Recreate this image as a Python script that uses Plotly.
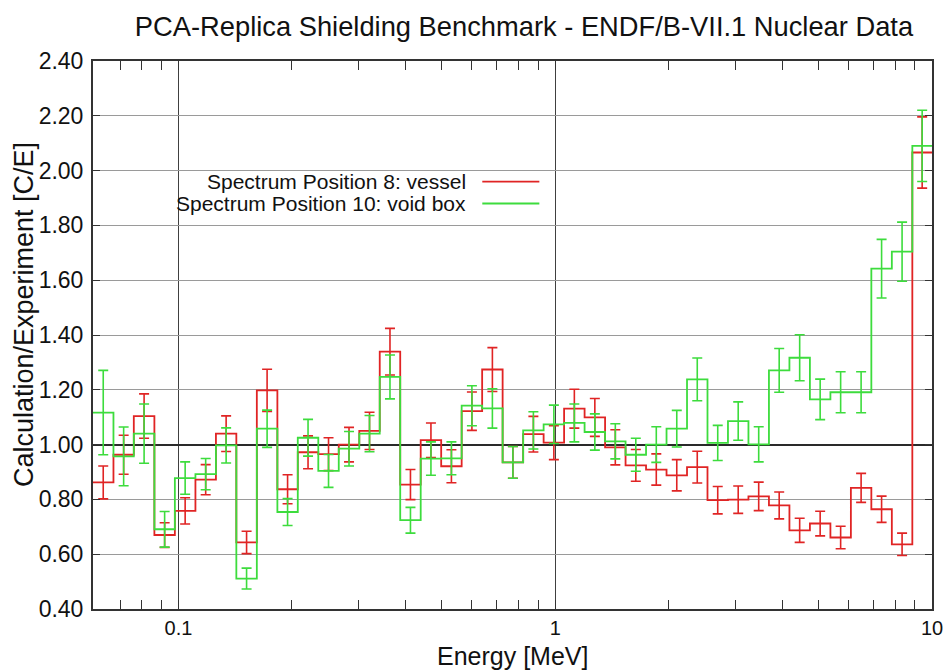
import numpy as np
import plotly.graph_objects as go

# Energy bin edges [MeV]
bin_edges = [0.0593, 0.0672, 0.0761, 0.0863, 0.0978, 0.1109, 0.1257, 0.1424, 0.1614, 0.1830,
             0.2073, 0.2350, 0.2663, 0.3019, 0.3421, 0.3877, 0.4394, 0.4980, 0.5644, 0.6397,
             0.7250, 0.8219, 0.9314, 1.0556, 1.1964, 1.3560, 1.5368, 1.7418, 1.9741, 2.2374,
             2.5357, 2.8735, 3.2570, 3.6914, 4.1840, 4.7416, 5.3745, 6.0911, 6.9024, 7.8235,
             8.8673, 10.0]

# Spectrum Position 8: vessel
vessel_ce = [0.862, 0.963, 1.104, 0.670, 0.758, 0.872, 1.040, 0.643, 1.198, 0.837,
             0.972, 0.965, 1.000, 1.050, 1.339, 0.854, 1.016, 0.921, 1.122, 1.274,
             0.935, 1.038, 1.007, 1.131, 1.099, 0.990, 0.924, 0.909, 0.888, 0.918,
             0.797, 0.799, 0.811, 0.778, 0.687, 0.712, 0.661, 0.842, 0.764, 0.636,
             2.066]
vessel_err = [0.060, 0.071, 0.081, 0.045, 0.048, 0.055, 0.065, 0.041, 0.077, 0.053,
              0.060, 0.060, 0.063, 0.068, 0.085, 0.055, 0.063, 0.060, 0.070, 0.080,
              0.058, 0.065, 0.062, 0.071, 0.069, 0.064, 0.058, 0.057, 0.057, 0.058,
              0.050, 0.050, 0.052, 0.049, 0.044, 0.045, 0.041, 0.053, 0.048, 0.041,
              0.130]

# Spectrum Position 10: void box
void_ce = [1.117, 0.957, 1.040, 0.691, 0.878, 0.892, 0.997, 0.511, 1.058, 0.754,
           1.025, 0.904, 0.985, 1.040, 1.247, 0.724, 0.949, 0.950, 1.142, 1.132,
           0.935, 1.052, 1.074, 1.079, 1.046, 1.012, 0.963, 1.000, 1.058, 1.238,
           1.006, 1.086, 1.001, 1.271, 1.317, 1.165, 1.191, 1.191, 1.642, 1.704,
           2.090]
void_err = [0.154, 0.107, 0.108, 0.065, 0.059, 0.057, 0.064, 0.038, 0.068, 0.049,
            0.067, 0.060, 0.063, 0.066, 0.080, 0.047, 0.061, 0.060, 0.073, 0.072,
            0.058, 0.068, 0.070, 0.069, 0.066, 0.064, 0.060, 0.065, 0.067, 0.078,
            0.064, 0.070, 0.064, 0.080, 0.084, 0.074, 0.075, 0.075, 0.107, 0.108,
            0.130]

series_names = ["Spectrum Position 8: vessel", "Spectrum Position 10: void box"]
series_colors = ["#e02424", "#3ddc3d"]

y_ticks = [0.40, 0.60, 0.80, 1.00, 1.20, 1.40, 1.60, 1.80, 2.00, 2.20, 2.40]
y_ref = [1.00]
x_major = [0.1, 1, 10]
x_major_labels = ["0.1", "1", "10"]
x_minor = [0.07, 0.08, 0.09, 0.2, 0.3, 0.4, 0.5, 0.6, 0.7, 0.8, 0.9,
           2, 3, 4, 5, 6, 7, 8, 9]

FONT = "Liberation Sans, Arial, Helvetica, sans-serif"
TXT = "#111111"
Y_RANGE = [0.4, 2.4]

edges = np.array(bin_edges)
centers = np.sqrt(edges[:-1] * edges[1:])

fig = go.Figure()
for vals, errs, name, col, yax in [(vessel_ce, vessel_err, series_names[0], series_colors[0], "y"),
                                   (void_ce, void_err, series_names[1], series_colors[1], "y2")]:
    fig.add_trace(go.Scatter(
        x=edges, y=list(vals) + [vals[-1]], mode="lines", line_shape="hv", yaxis=yax,
        line=dict(color=col, width=1.8), name=name, showlegend=False, hoverinfo="skip"))
    fig.add_trace(go.Scatter(
        x=centers, y=vals, mode="markers", yaxis=yax,
        marker=dict(size=1, color=col, opacity=0),
        error_y=dict(type="data", array=errs, visible=True, color=col, thickness=1.6, width=5),
        showlegend=False, name=name))

# gnuplot-style key: right-justified text followed by a line sample
key_rows = [0.780, 0.740]
for name, col, yk in zip(series_names, series_colors, key_rows):
    fig.add_annotation(xref="paper", yref="paper", x=0.447, y=yk, text=name,
                       showarrow=False, xanchor="right", yanchor="middle",
                       font=dict(family=FONT, size=21, color=TXT))
    fig.add_shape(type="line", xref="paper", yref="paper", x0=0.464, x1=0.532, y0=yk, y1=yk,
                  line=dict(color=col, width=1.8))

# y axis title
fig.add_annotation(xref="paper", yref="paper", x=-0.083, y=0.537,
                   text="Calculation/Experiment [C/E]", textangle=-90, showarrow=False,
                   xanchor="center", yanchor="middle", font=dict(family=FONT, size=27, color=TXT))

# x axis title
fig.add_annotation(xref="paper", yref="paper", x=0.5, y=-0.085,
                   text="Energy [MeV]", showarrow=False,
                   xanchor="center", yanchor="middle", font=dict(family=FONT, size=25, color=TXT))

fig.update_layout(
    width=950, height=670,
    margin=dict(l=93, r=18, t=61, b=61),
    paper_bgcolor="white", plot_bgcolor="white",
    title=dict(text="PCA-Replica Shielding Benchmark - ENDF/B-VII.1 Nuclear Data",
               x=0.5137, xref="paper", xanchor="center", y=0.96, yanchor="middle",
               font=dict(family=FONT, size=27.3, color=TXT)),
    font=dict(family=FONT, size=20, color=TXT),
    yaxis2=dict(overlaying="y", range=Y_RANGE, tickmode="array", tickvals=y_ref,
                showticklabels=False, ticks="", showgrid=True, gridcolor="#2a2a2a",
                gridwidth=1.5, showline=False, zeroline=False, automargin=False),
)
fig.update_xaxes(
    type="log", range=[np.log10(bin_edges[0]), np.log10(bin_edges[-1])],
    tickmode="array", tickvals=x_major, ticktext=x_major_labels,
    ticks="inside", ticklen=9, tickcolor="#333", tickwidth=1,
    showgrid=True, gridcolor="#404040", gridwidth=1,
    minor=dict(tickmode="array", tickvals=x_minor, ticks="inside", ticklen=5,
               tickcolor="#333", showgrid=False),
    showline=True, linecolor="#333", linewidth=2, mirror="allticks",
    tickfont=dict(family=FONT, size=20, color=TXT),
    zeroline=False, automargin=False,
)
fig.update_layout(yaxis=dict(
    range=Y_RANGE, tickmode="array", tickvals=y_ticks,
    ticktext=[f"{v:.2f}" for v in y_ticks],
    ticks="inside", ticklen=7, tickcolor="#333",
    showgrid=True, gridcolor="#9a9a9a", gridwidth=1,
    showline=True, linecolor="#333", linewidth=2, mirror="allticks",
    tickfont=dict(family=FONT, size=23, color=TXT), ticklabelstandoff=3,
    zeroline=False, automargin=False,
))

fig.write_html("out.html", config={"displayModeBar": False},
               post_script="document.body.style.margin='0';"
                           "document.documentElement.style.overflow='hidden';")
